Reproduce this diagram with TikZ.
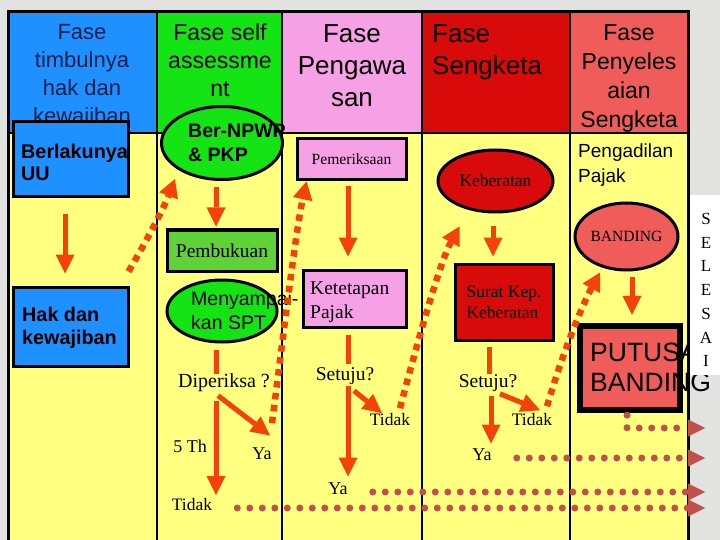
\documentclass[tikz,border=0pt]{standalone}
\usepackage{fontspec}
\setmainfont{Liberation Serif}
\newfontfamily\arial{Liberation Sans}
\usetikzlibrary{arrows.meta,shapes.geometric,calc}
\newcommand\fsz[2]{\fontsize{#1}{#2}\selectfont}
\definecolor{marble}{RGB}{226,226,224}
\definecolor{cblue}{RGB}{30,144,255}
\definecolor{cgreen}{RGB}{20,228,20}
\definecolor{cgreentwo}{RGB}{95,210,55}
\definecolor{cpink}{RGB}{246,160,230}
\definecolor{cred}{RGB}{216,10,10}
\definecolor{csalmon}{RGB}{240,92,90}
\definecolor{cyellow}{RGB}{255,255,128}
\definecolor{corange}{RGB}{245,65,10}
\definecolor{cbrown}{RGB}{192,80,77}
\definecolor{cnavy}{RGB}{16,32,80}
\tikzset{
  hdr/.style={inner sep=0pt},
  txt/.style={inner sep=0pt},
  lab/.style={inner sep=0pt, text height=0.7em, text depth=0.22em},
  boxnode/.style={draw=black, line width=3pt, inner sep=0pt},
  ellnode/.style={ellipse, draw=black, line width=3pt, inner sep=0pt},
  arr/.style={draw=corange, line width=5pt, -{Triangle[length=19pt,width=19pt,line width=0pt]}},
  stub/.style={draw=corange, line width=5pt},
  dotarr/.style={draw=corange, line width=6.5pt, dash pattern=on 6.5pt off 5.5pt, -{Triangle[length=18pt,width=20pt,line width=0pt]}},
  bdots/.style={draw=cbrown, line width=7pt, line cap=round, dash pattern=on 0pt off 12.5pt, -{Triangle[length=17pt,width=17pt,line width=0pt]}},
}
\begin{document}
\begin{tikzpicture}[x=1pt,y=-1pt]
\useasboundingbox (0,0) rectangle (720,540);
\fill[marble] (0,0) rectangle (720,540);
% header cells
\fill[cblue] (8,12) rectangle (157,133);
\fill[cgreen] (157,12) rectangle (282,133);
\fill[cpink] (282,12) rectangle (422,133);
\fill[cred] (422,12) rectangle (570,133);
\fill[csalmon] (570,12) rectangle (688,133);
\fill[cyellow] (8,133) rectangle (688,540);
% grid
\draw[line width=3pt] (8,545) -- (8,12) -- (688,12) -- (688,545);
\draw[line width=2.5pt] (8,133) -- (688,133);
\foreach \xx in {157,282,422,570} \draw[line width=2.5pt] (\xx,12) -- (\xx,545);
% header texts
\node[hdr, text=cnavy, font=\arial\fsz{22}{28}, align=center] (h1) at (82,76) {Fase\\timbulnya\\hak dan\\kewajiban};
\node[hdr, font=\arial\fsz{23}{28}, align=center] (h2) at (220,60) {Fase self\\assessme\\nt};
\node[hdr, font=\arial\fsz{26}{32}, align=center] (h3) at (352,65.5) {Fase\\Pengawa\\san};
\node[hdr, font=\arial\fsz{26}{32}, align=left, anchor=west] (h4) at (432,52) {Fase\\Sengketa};
\node[hdr, font=\arial\fsz{23}{29}, align=center] (h5) at (629,78) {Fase\\Penyeles\\aian\\Sengketa};
% column 1
\node[boxnode, fill=cblue, minimum width=115pt, minimum height=75pt] (berlaku) at (70.5,159.5) {};
\node[txt, font=\arial\bfseries\fsz{19.8}{22}, anchor=west, align=left] (berlakut) at (21,162) {Berlakunya\\UU};
\node[boxnode, fill=cblue, minimum width=115pt, minimum height=79pt] (hak) at (70.5,326.5) {};
\node[txt, font=\arial\bfseries\fsz{19.8}{23}, anchor=west, align=left] (hakt) at (22,328) {Hak dan\\kewajiban};
% column 2
\node[ellnode, fill=cgreen, minimum width=121pt, minimum height=73pt] (npwp) at (222,143) {};
\node[txt, font=\arial\bfseries\fsz{19.5}{24}, anchor=west, align=left] (npwpt) at (188,143) {Ber-NPWP\\\& PKP};
\node[boxnode, fill=cgreentwo, minimum width=110pt, minimum height=41pt, font=\fsz{19.5}{24}] (pembukuan) at (222,250.5) {Pembukuan};
\node[ellnode, fill=cgreen, minimum width=110pt, minimum height=62pt] (spt) at (222,311) {};
\node[txt, font=\arial\fsz{19.5}{24}, anchor=west, align=left] (sptt) at (191,311) {Menyampai-\\kan SPT};
\node[lab, font=\fsz{20}{24}] (diperiksa) at (224,385) {Diperiksa ?};
\node[lab, font=\fsz{18}{22}] (th5) at (190,450) {5 Th};
\node[lab, font=\fsz{18}{22}] (ya1) at (262,457) {Ya};
\node[lab, font=\fsz{17.5}{22}] (tidak1) at (192,508) {Tidak};
% column 3
\node[boxnode, fill=cpink, minimum width=109pt, minimum height=41pt, font=\fsz{15.6}{20}] (pemeriksaan) at (351.5,159.5) {Pemeriksaan};
\node[boxnode, fill=cpink, minimum width=103pt, minimum height=57pt] (ketetapan) at (354.5,298.5) {};
\node[txt, font=\fsz{19.5}{24}, anchor=west, align=left] (ketetapant) at (310,302) {Ketetapan\\Pajak};
\node[lab, font=\fsz{19.5}{24}] (setuju1) at (345,378) {Setuju?};
\node[lab, font=\fsz{17.5}{22}] (tidak2) at (390,423) {Tidak};
\node[lab, font=\fsz{18}{22}] (ya2) at (338,492) {Ya};
% column 4
\node[ellnode, fill=cred, minimum width=115pt, minimum height=62pt, font=\fsz{17.5}{22}] (keberatan) at (495.5,181) {Keberatan};
\node[boxnode, fill=cred, minimum width=98pt, minimum height=76pt, font=\fsz{17.5}{21}, align=left] (suratkep) at (504,302) {Surat Kep.\\Keberatan};
\node[lab, font=\fsz{19.5}{24}] (setuju2) at (488,385) {Setuju?};
\node[lab, font=\fsz{17.5}{22}] (tidak3) at (532,423) {Tidak};
\node[lab, font=\fsz{18}{22}] (ya3) at (482,458) {Ya};
% column 5
\node[txt, font=\arial\fsz{19}{25}, anchor=west, align=left] (pengadilan) at (578,165) {Pengadilan\\Pajak};
\node[ellnode, fill=csalmon, minimum width=103pt, minimum height=67pt, font=\fsz{15.6}{20}] (banding) at (626.5,236.5) {BANDING};
\node[fill=csalmon, minimum width=100pt, minimum height=84pt, inner sep=0pt] (putusan) at (630,368) {};
\node[txt, font=\arial\fsz{26.5}{30}, anchor=west, align=left] (putusant) at (590,367) {PUTUSAN\\BANDING};
\draw[line width=6pt] (putusan.north west) rectangle (putusan.south east);
\fill[white] (690,195) rectangle (720,375);
\node[txt, font=\fsz{17}{23.7}, align=center] (selesai) at (706,290) {S\\E\\L\\E\\S\\A\\I};
% solid arrows
\draw[arr, shorten <=16pt, shorten >=12pt] ([xshift=-5.5pt]berlaku.south) -- ([xshift=-5.5pt]hak.north);
\draw[arr, shorten <=6.5pt, shorten >=2pt] ([xshift=-6pt]npwp.south) -- ([xshift=-6pt]pembukuan.north);
\draw[stub, shorten <=6pt, shorten >=6pt] ([xshift=-6pt]spt.south) -- ([xshift=-6pt]spt.south |- diperiksa.north);
\draw[arr, shorten <=10.8pt, shorten >=8pt] ([xshift=-8pt]diperiksa.south) -- ([xshift=-8pt]diperiksa.south |- tidak1.north);
\draw[arr] ($(diperiksa.south)+(-6,5.8)$) -- ($(ya1.north)+(8,-16.7)$);
\draw[arr, shorten <=5pt, shorten >=12pt] ([xshift=-3.5pt]pemeriksaan.south) -- ([xshift=-3.5pt]pemeriksaan.south |- ketetapan.north);
\draw[stub, shorten <=6pt, shorten >=9pt] ([xshift=-6.5pt]ketetapan.south) -- ([xshift=-6.5pt]ketetapan.south |- setuju1.north);
\draw[arr, shorten <=3pt, shorten >=10.7pt] ([xshift=3pt]setuju1.south) -- ([xshift=3pt]setuju1.south |- ya2.north);
\draw[arr] ($(setuju1.south)+(9,8)$) -- ($(tidak2.north)+(-8,-5)$);
\draw[arr, shorten <=13pt, shorten >=6pt] ([xshift=-2.5pt]keberatan.south) -- ([xshift=-2.5pt]keberatan.south |- suratkep.north);
\draw[stub, shorten <=5pt, shorten >=6pt] ([xshift=-15pt]suratkep.south) -- ([xshift=-15pt]suratkep.south |- setuju2.north);
\draw[arr, shorten <=6pt, shorten >=9.7pt] ([xshift=3pt]setuju2.south) -- ([xshift=3pt]setuju2.south |- ya3.north);
\draw[arr] ($(setuju2.south)+(12,4)$) -- ($(tidak3.north)+(8,-8)$);
\draw[arr, shorten <=5pt, shorten >=11pt] ([xshift=5.5pt]banding.south) -- ([xshift=5.5pt]banding.south |- putusan.north);
% dotted orange curves
\draw[dotarr] ($(hak.north east)+(-1,-14)$) .. controls (150,235) and (165,205) .. ($(npwp.south)+(-47,-2)$);
\draw[dotarr] ($(ya1.north)+(10,-29)$) .. controls (284,330) and (296,230) .. ($(pemeriksaan.south west)+(11,0)$);
\draw[dotarr] ($(tidak2.north)+(10,-10)$) .. controls (418,340) and (440,262) .. ($(keberatan.south)+(-36,13)$);
\draw[dotarr] ($(tidak3.north)+(15,-12)$) .. controls (565,345) and (585,300) .. ($(banding.south)+(-26.5,1)$);
% brown dotted rows
\coordinate (redge) at (705,0);
\draw[bdots] ([xshift=-3pt,yshift=-5pt]putusan.south) |- ($(redge)+(0,428)$);
\draw[bdots] ([xshift=25pt]ya3.east) -- (ya3.east -| redge);
\draw[bdots] ([xshift=25pt]ya2.east) -- (ya2.east -| redge);
\draw[bdots] ([xshift=25pt]tidak1.east) -- (tidak1.east -| redge);
\end{tikzpicture}
\end{document}
